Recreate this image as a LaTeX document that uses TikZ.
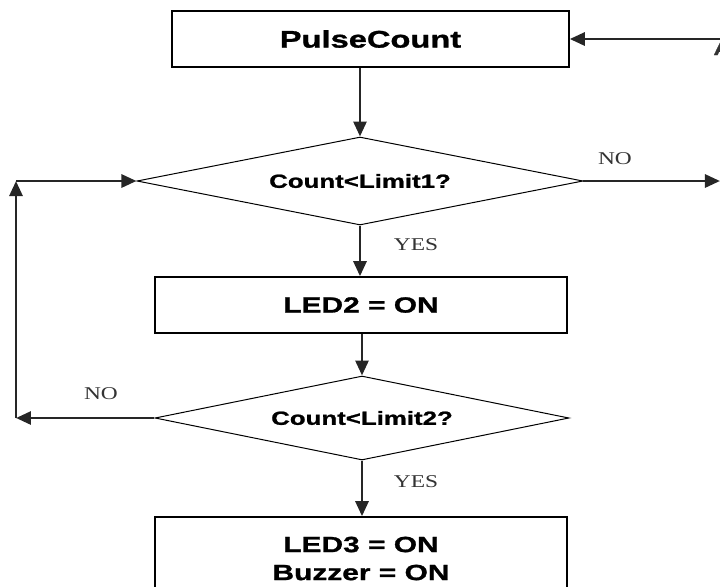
\documentclass[tikz,border=0pt]{standalone}
\usepackage{fontspec}
\usetikzlibrary{shapes.geometric,arrows.meta}
\newfontfamily\boxfont[FakeStretch=1.36,FakeBold=1.2]{Liberation Sans}
\newfontfamily\lblfont[FakeStretch=1.3]{Liberation Serif}
\tikzset{
  procbox/.style={draw=black, line width=0.8pt, rectangle, inner sep=0pt, align=center,
    font=\boxfont\bfseries\fontsize{11}{14}\selectfont},
  decbox/.style={draw=black, line width=0.5pt, diamond, aspect=5, inner sep=0pt,
    font=\boxfont\bfseries\fontsize{9.5}{11}\selectfont},
  arr/.style={draw=black!85, line width=1.4pt, -{Triangle[length=7.5pt,width=6.5pt]}},
  lbl/.style={inner sep=0pt, font=\lblfont\fontsize{9}{10}\selectfont, text=black!80},
}
\begin{document}
\begin{tikzpicture}[x=0.5pt, y=-0.5pt]
\useasboundingbox (0,0) rectangle (720,586);
\begin{scope}
\clip (0,0) rectangle (720,586);
\node[procbox, minimum width=198.5pt, minimum height=28pt,
  font=\boxfont\bfseries\fontsize{12}{14}\selectfont] (pc) at (370.5,39) {PulseCount};
\node[decbox, minimum width=223pt, minimum height=44pt] (d1) at (360,181) {Count<Limit1?};
\node[procbox, minimum width=206pt, minimum height=28pt] (led2) at (361,305) {LED2 = ON};
\node[decbox, minimum width=207pt, minimum height=42pt] (d2) at (362,418) {Count<Limit2?};
\node[procbox, minimum width=206pt, minimum height=41.5pt] (led3) at (361,558.5) {LED3 = ON\\Buzzer = ON};

\coordinate (c1) at (16,418);
\coordinate (c2) at (16,181);
\coordinate (outR) at (720,181);
\coordinate (inA) at (722,39);

\draw[arr] (d1.north |- pc.south) -- (d1.north);
\draw[arr] (d1.south) -- (d1.south |- led2.north);
\draw[arr] (d2.north |- led2.south) -- (d2.north);
\draw[arr] (d2.south) -- (d2.south |- led3.north);
\draw[arr] (d2.west) -- (c1);
\draw[arr] (c1) -- (c2);
\draw[arr] (c2) -- (d1.west);
\draw[arr] (d1.east) -- (outR);
\draw[arr] (inA) -- (pc.east);

\node[lbl] (yes1) at (416,245) {YES};
\node[lbl] (yes2) at (416,482) {YES};
\node[lbl] (no1) at (615,159) {NO};
\node[lbl] (no2) at (101,394) {NO};
\node[lbl, anchor=base west, font=\boxfont\bfseries\fontsize{9}{10}\selectfont] (a) at (713,55) {A};
\end{scope}
\end{tikzpicture}
\end{document}
